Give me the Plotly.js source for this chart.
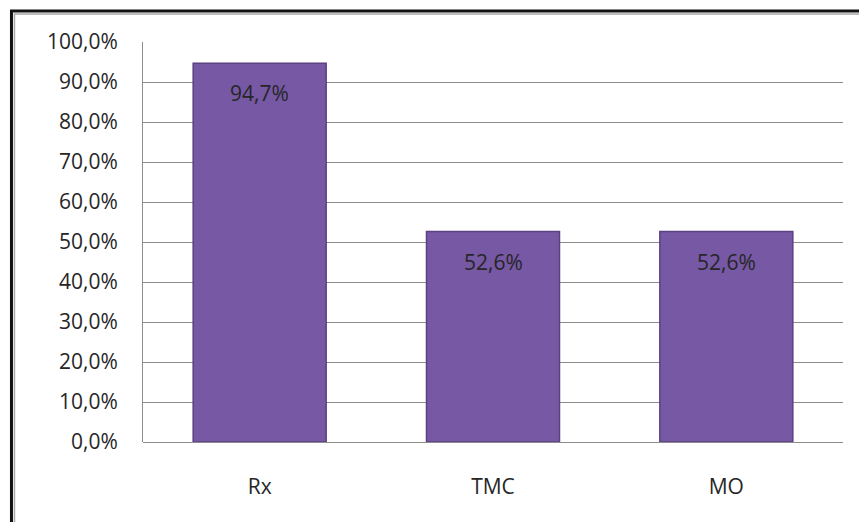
<!DOCTYPE html>
<html>
<head>
<meta charset="utf-8">
<script src="https://cdn.plot.ly/plotly-3.0.1.min.js"></script>
<style>html,body{margin:0;padding:0;background:#fff;overflow:hidden}#chart{width:859px;height:522px}</style>
</head>
<body>
<div id="chart"></div>
<script>
const categories = ["Rx", "TMC", "MO"];
const values = [94.7, 52.6, 52.6];
const tickValues = [0, 10, 20, 30, 40, 50, 60, 70, 80, 90, 100];

const fmt = v => v.toFixed(1).replace('.', ',') + '%';

const trace = {
  type: 'bar',
  x: categories,
  y: values,
  marker: {color: '#7658a5', line: {color: '#5b4182', width: 1.5}},
  hoverinfo: 'none'
};

const annotations = categories.map((c, i) => ({
  x: c, y: values[i], xref: 'x', yref: 'y',
  text: fmt(values[i]), showarrow: false, yshift: -30,
  font: {family: 'Open Sans, Liberation Sans, sans-serif', size: 21, color: '#262626'}
}));

const layout = {
  width: 859, height: 522,
  margin: {l: 143, r: 16, t: 42, b: 80},
  paper_bgcolor: '#ffffff', plot_bgcolor: '#ffffff',
  bargap: 0.43,
  showlegend: false,
  separators: ', ',
  font: {family: 'Open Sans, Liberation Sans, sans-serif', size: 21, color: '#262626'},
  xaxis: {
    showgrid: false, showline: false, ticks: '', zeroline: false,
    ticklabelstandoff: 30,
    tickfont: {size: 21, color: '#262626'}
  },
  yaxis: {
    range: [0, 100], tickvals: tickValues, ticktext: tickValues.map(fmt),
    showgrid: true, gridcolor: '#8c8c8c', gridwidth: 1,
    showline: true, linecolor: '#8c8c8c', linewidth: 1,
    zeroline: true, zerolinecolor: '#8c8c8c', zerolinewidth: 1,
    ticks: '', ticklabelstandoff: 20,
    tickfont: {size: 21, color: '#262626'}
  },
  annotations: annotations,
  shapes: [
    {type: 'rect', xref: 'paper', yref: 'paper', x0: -0.1879, x1: 1.3, y0: -0.3, y1: 1.0775,
     line: {color: '#111111', width: 3}, fillcolor: 'rgba(0,0,0,0)', layer: 'above'},
    {type: 'rect', xref: 'paper', yref: 'paper', x0: -0.1836, x1: 1.3, y0: -0.3, y1: 1.07,
     line: {color: '#a8a8a8', width: 1.5}, fillcolor: 'rgba(0,0,0,0)', layer: 'above'}
  ]
};

Plotly.newPlot('chart', [trace], layout, {displayModeBar: false, staticPlot: true});
</script>
</body>
</html>
